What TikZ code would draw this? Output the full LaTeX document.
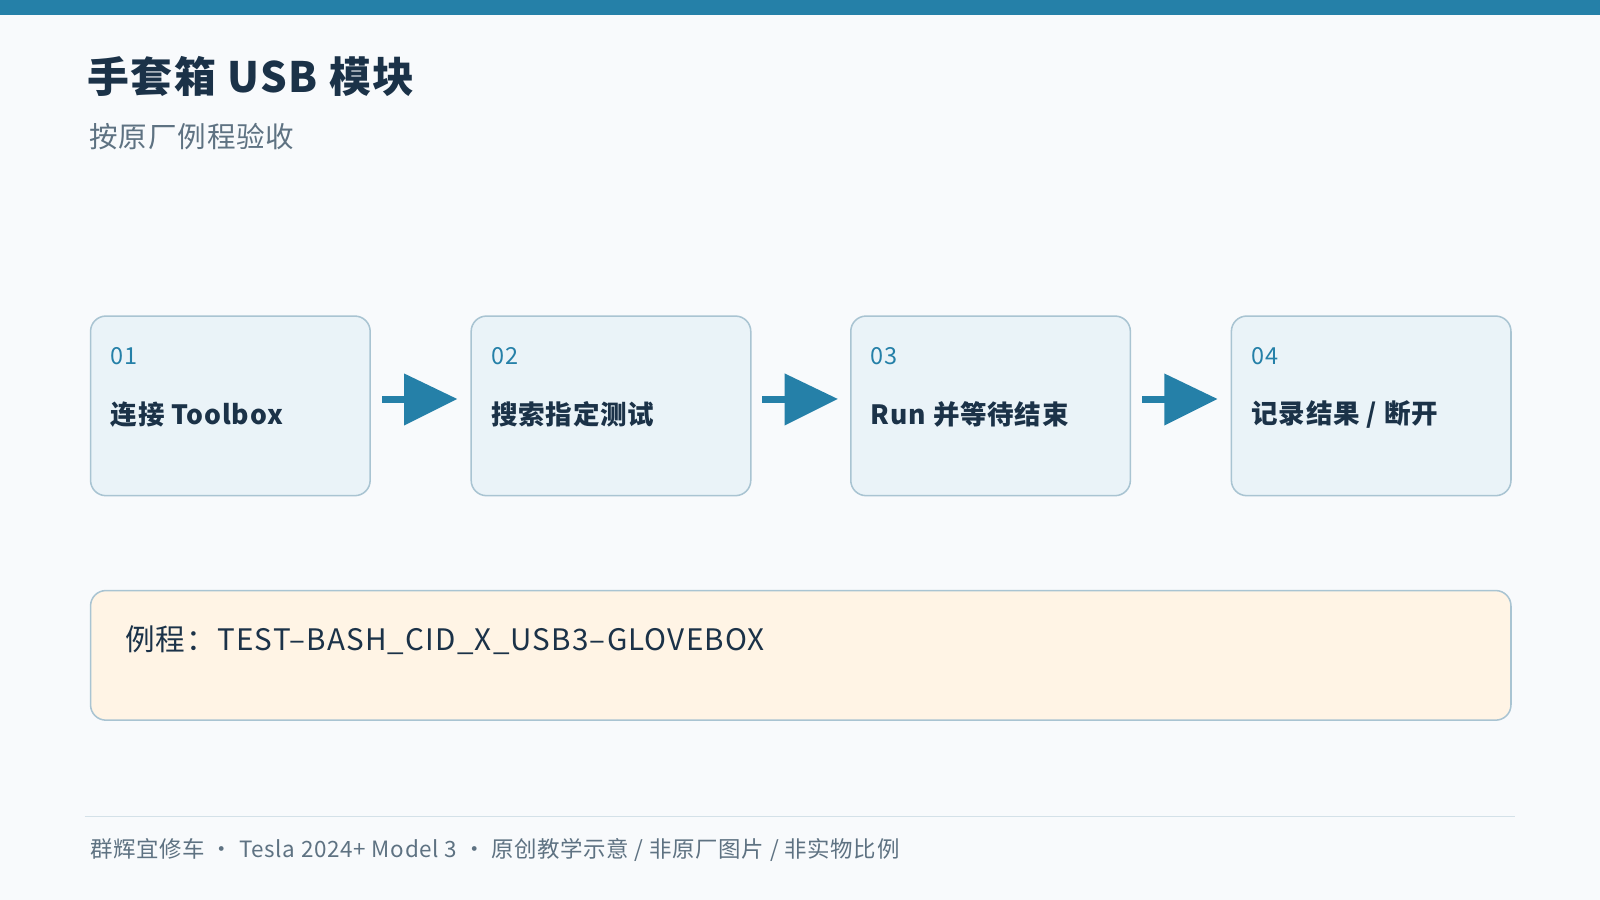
\documentclass[tikz,border=0pt]{standalone}
\usepackage{fontspec}
\setmainfont{Noto Sans CJK SC}
\begin{document}
\definecolor{bg}{HTML}{F8FAFC}
\definecolor{acc}{HTML}{2580A8}
\definecolor{dark}{HTML}{1B3248}
\definecolor{gray}{HTML}{5E7282}
\definecolor{boxf}{HTML}{EAF3F8}
\definecolor{boxd}{HTML}{A9C4D2}
\definecolor{warm}{HTML}{FFF4E5}
\begin{tikzpicture}[x=1pt,y=-1pt,
  stepbox/.style={draw=boxd,line width=1.5pt,fill=boxf,rounded corners=15pt,minimum width=274pt,minimum height=176pt,anchor=north west},
  num/.style={anchor=west,text=acc,font=\fontsize{23}{24}\selectfont\addfontfeature{LetterSpace=3}},
  lab/.style={anchor=west,text=dark,font=\fontsize{26}{28}\selectfont\bfseries\addfontfeature{LetterSpace=3}}]
\useasboundingbox (0,0) rectangle (1568,882);
\fill[bg] (0,0) rectangle (1568,882);
\fill[acc] (0,0) rectangle (1568,15);
\node[anchor=west,text=dark,font=\fontsize{41}{44}\selectfont\bfseries\addfontfeature{LetterSpace=4}] (title) at (82,75) {手套箱 USB 模块};
\node[anchor=west,text=gray,font=\fontsize{28}{30}\selectfont\addfontfeature{LetterSpace=3}] (sub) at (84,134) {按原厂例程验收};
\foreach \i/\x/\n/\t in {1/88/01/{连接 Toolbox},2/461/02/{搜索指定测试},3/833/03/{Run 并等待结束},4/1206/04/{记录结果 / 断开}}{
  \node[stepbox] (b\i) at (\x,309) {};
  \node[num] (n\i) at (\x+17,349) {\n};
  \node[lab] (l\i) at (\x+17,406) {\t};
}
\foreach \x in {374,747,1119}{
  \fill[acc] (\x,388) rectangle (\x+26,395);
  \fill[acc] (\x+22,366) -- (\x+74,391) -- (\x+22,417) -- cycle;
}
\node[draw=boxd,line width=1.5pt,fill=warm,rounded corners=15pt,minimum width=1392pt,minimum height=127pt,anchor=north west] (code) at (88,578) {};
\node[anchor=west,text=dark,font=\fontsize{29}{30}\selectfont\addfontfeature{LetterSpace=4}] (codet) at (119,627) {例程：TEST–BASH\_CID\_X\_USB3–GLOVEBOX};
\draw[color=boxd!50,line width=1.2pt] (83,800) -- (1485,800);
\node[anchor=west,text=gray,font=\fontsize{22}{23}\selectfont\addfontfeature{LetterSpace=3}] (foot) at (85,833) {群辉宜修车 · Tesla 2024+ Model 3 · 原创教学示意 / 非原厂图片 / 非实物比例};
\end{tikzpicture}
\end{document}
